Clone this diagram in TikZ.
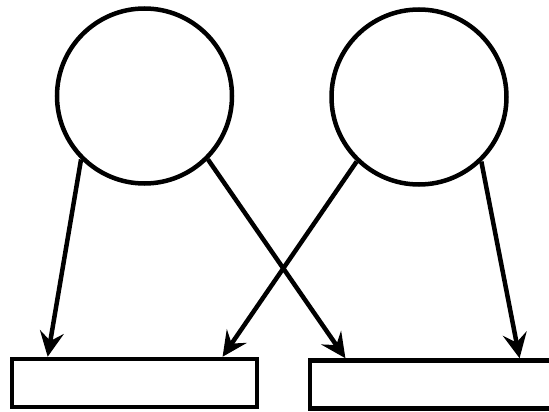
\documentclass[tikz,border=0pt]{standalone}
\usetikzlibrary{arrows.meta,calc}
\begin{document}
\begin{tikzpicture}[x=1pt,y=-1pt,
  ring/.style={draw=black,line width=4.5pt,circle,minimum size=175pt,inner sep=0pt},
  box/.style={draw=black,line width=4.5pt,rectangle,minimum width=245pt,minimum height=48pt,inner sep=0pt},
  link/.style={line width=4.5pt,-{Stealth[length=25pt,width=24pt,inset=9pt]}}]
\useasboundingbox (0,0) rectangle (549,412);
\node[ring] (c1) at (144.5,96) {};
\node[ring] (c2) at (419,97) {};
\node[box] (r1) at (134.5,383) {};
\node[box] (r2) at (432.5,384.5) {};
\draw[link] (c1.225) -- ($(r1.north west)!0.152!(r1.north east)$);
\draw[link] (c1.315) -- ($(r2.north west)!0.151!(r2.north east)$);
\draw[link] (c2.226) -- ($(r1.north west)!0.853!(r1.north east)$);
\draw[link] (c2.314) -- ($(r2.north west)!0.849!(r2.north east)$);
\end{tikzpicture}
\end{document}
